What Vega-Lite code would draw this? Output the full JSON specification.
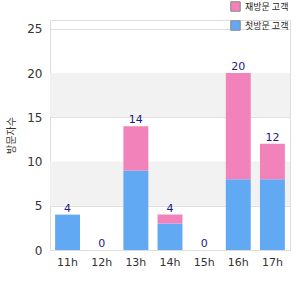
{
  "$schema": "https://vega.github.io/schema/vega-lite/v6.json",
  "autosize": "none",
  "width": 240,
  "height": 230,
  "padding": {"left": 50, "top": 20, "right": 10, "bottom": 50},
  "background": "white",
  "config": {
    "view": {"stroke": "#dddddd", "strokeWidth": 1},
    "font": "DejaVu Sans",
    "axis": {"labelFont": "DejaVu Sans", "titleFont": "Noto Sans CJK KR"}
  },
  "datasets": {
    "bars": [
      {"hour": "11h", "type": "첫방문 고객", "count": 4},
      {"hour": "11h", "type": "재방문 고객", "count": 0},
      {"hour": "12h", "type": "첫방문 고객", "count": 0},
      {"hour": "12h", "type": "재방문 고객", "count": 0},
      {"hour": "13h", "type": "첫방문 고객", "count": 9},
      {"hour": "13h", "type": "재방문 고객", "count": 5},
      {"hour": "14h", "type": "첫방문 고객", "count": 3},
      {"hour": "14h", "type": "재방문 고객", "count": 1},
      {"hour": "15h", "type": "첫방문 고객", "count": 0},
      {"hour": "15h", "type": "재방문 고객", "count": 0},
      {"hour": "16h", "type": "첫방문 고객", "count": 8},
      {"hour": "16h", "type": "재방문 고객", "count": 12},
      {"hour": "17h", "type": "첫방문 고객", "count": 8},
      {"hour": "17h", "type": "재방문 고객", "count": 4}
    ],
    "totals": [
      {"hour": "11h", "total": 4},
      {"hour": "12h", "total": 0},
      {"hour": "13h", "total": 14},
      {"hour": "14h", "total": 4},
      {"hour": "15h", "total": 0},
      {"hour": "16h", "total": 20},
      {"hour": "17h", "total": 12}
    ],
    "bands": [
      {"from": 5, "to": 10},
      {"from": 15, "to": 20}
    ]
  },
  "layer": [
    {
      "data": {"name": "bands"},
      "mark": {"type": "rect", "color": "#f2f2f2"},
      "encoding": {
        "y": {"field": "from", "type": "quantitative", "scale": {"domain": [0, 25]}},
        "y2": {"field": "to"}
      }
    },
    {
      "data": {"name": "bars"},
      "mark": {"type": "bar"},
      "encoding": {
        "x": {
          "field": "hour", "type": "nominal", "sort": null,
          "scale": {"paddingInner": 0.27, "paddingOuter": 0.15},
          "axis": {"title": null, "labelAngle": 0, "labelColor": "#333333", "labelFontSize": 11, "domain": true, "domainColor": "#dddddd", "ticks": false, "labelPadding": 6}
        },
        "y": {
          "field": "count", "type": "quantitative", "aggregate": "sum", "stack": "zero",
          "scale": {"domain": [0, 25]},
          "axis": {"title": "방문자수", "titleColor": "#333333", "titleFontSize": 10, "titleFontWeight": "normal", "titlePadding": 10, "values": [0, 5, 10, 15, 20, 25], "labelColor": "#333333", "labelFontSize": 12, "gridColor": "#dddddd", "domain": false, "ticks": false, "labelPadding": 8}
        },
        "color": {
          "field": "type", "type": "nominal",
          "scale": {"domain": ["재방문 고객", "첫방문 고객"], "range": ["#f283ba", "#62a9f3"]},
          "legend": {
            "title": null, "orient": "none", "legendX": 180, "legendY": -19,
            "symbolType": "square", "symbolSize": 90, "symbolStrokeColor": "#888888", "symbolStrokeWidth": 1,
            "labelFont": "Noto Sans CJK KR", "labelFontSize": 9, "labelColor": "#222222", "rowPadding": 4, "labelOffset": 4
          }
        },
        "order": {"field": "type", "sort": "descending"}
      }
    },
    {
      "data": {"name": "totals"},
      "mark": {"type": "text", "dy": -6, "color": "#1a1a8c", "fontSize": 11, "font": "DejaVu Sans"},
      "encoding": {
        "x": {"field": "hour", "type": "nominal", "sort": null},
        "y": {"field": "total", "type": "quantitative"},
        "text": {"field": "total", "type": "quantitative"}
      }
    }
  ]
}
